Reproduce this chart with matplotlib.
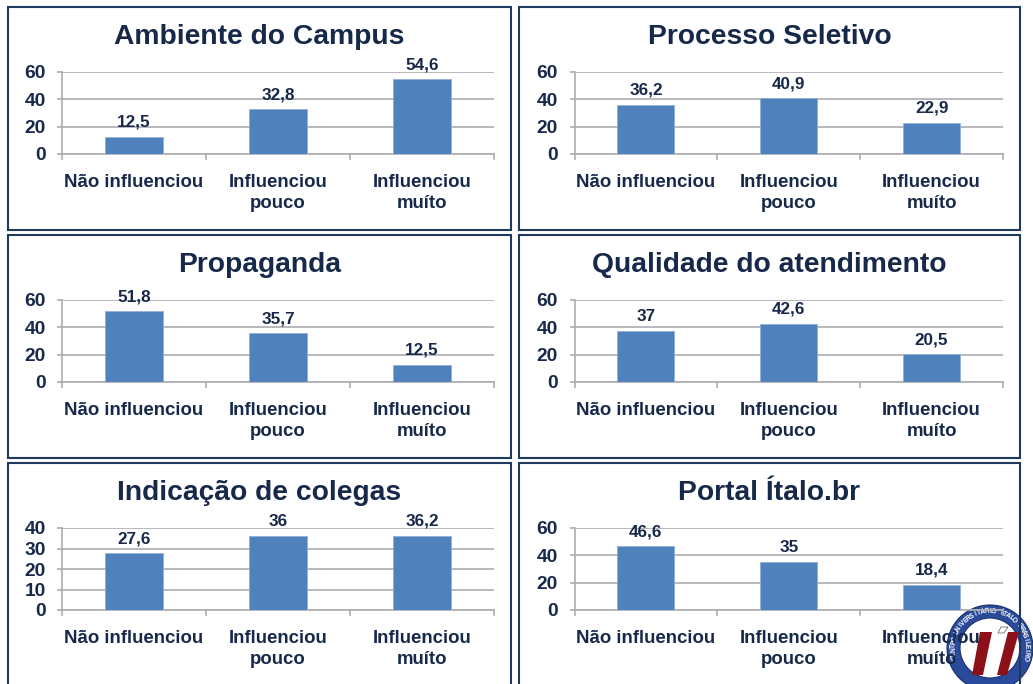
import matplotlib
matplotlib.use('Agg')
import numpy as np
from matplotlib import pyplot as plt
from matplotlib.patches import Rectangle, Circle, Polygon

plt.rcParams['font.family'] = ['Liberation Sans', 'DejaVu Sans']
plt.rcParams['font.weight'] = 'bold'

W, H = 1033, 684
NAVY = '#17294a'
BLUE = '#4f81bd'
GRID = '#adadb2'

categorias = ['Não influenciou', 'Influenciou\npouco', 'Influenciou\nmuíto']
titulos = ['Ambiente do Campus', 'Processo Seletivo', 'Propaganda',
           'Qualidade do atendimento', 'Indicação de colegas', 'Portal Ítalo.br']
ambiente = [12.5, 32.8, 54.6]
processo = [36.2, 40.9, 22.9]
propaganda = [51.8, 35.7, 12.5]
qualidade = [37, 42.6, 20.5]
indicacao = [27.6, 36, 36.2]
portal = [46.6, 35, 18.4]
rotulos = [['12,5', '32,8', '54,6'], ['36,2', '40,9', '22,9'], ['51,8', '35,7', '12,5'],
           ['37', '42,6', '20,5'], ['27,6', '36', '36,2'], ['46,6', '35', '18,4']]
series = [ambiente, processo, propaganda, qualidade, indicacao, portal]
yticks = [[0, 20, 40, 60]] * 4 + [[0, 10, 20, 30, 40], [0, 20, 40, 60]]

# caixas em pixels: x0, x1, y0, y1
caixas_x = [(8, 511), (519, 1020)]
caixas_y = [(7, 230), (235, 458), (463, 700)]
eixos_x = [(62, 494), (574.5, 1003)]
eixos_y = [(72, 154), (300, 382), (528, 610)]


def fx(x):
    return x / W


def fy(y):
    return 1 - y / H


fig = plt.figure(figsize=(W / 100, H / 100), dpi=100, facecolor='white')

for i in range(6):
    lin, col = i // 2, i % 2
    x0, x1 = caixas_x[col]
    y0, y1 = caixas_y[lin]
    fig.add_artist(Rectangle((fx(x0), fy(y1)), (x1 - x0) / W, (y1 - y0) / H,
                             transform=fig.transFigure, fill=False,
                             edgecolor='#1f3a5f', linewidth=1.5, zorder=20))

    ax0, ax1 = eixos_x[col]
    ay0, ay1 = eixos_y[lin]
    ax = fig.add_axes([fx(ax0), fy(ay1), (ax1 - ax0) / W, (ay1 - ay0) / H])
    ax.patch.set_alpha(0)
    pos = np.arange(3)
    ax.bar(pos, series[i], width=0.4, color=BLUE, edgecolor='#8fb0d8', linewidth=0.6, zorder=3)
    ax.set_xlim(-0.5, 2.5)
    ax.set_ylim(0, yticks[i][-1])
    ax.set_yticks(yticks[i])
    ax.set_xticks(pos)
    ax.set_xticklabels(categorias, fontsize=13.4, color=NAVY, linespacing=1.33, va='top')
    ax.tick_params(axis='x', length=0, pad=14.5)
    ax.tick_params(axis='y', length=3.6, width=1.2, color=GRID, labelsize=13.8,
                   labelcolor=NAVY, pad=8.2)
    ax.grid(axis='y', color=GRID, linewidth=1.2, zorder=1)
    ax.set_axisbelow(True)
    for lado in ['top', 'right']:
        ax.spines[lado].set_visible(False)
    for lado in ['left', 'bottom']:
        ax.spines[lado].set_color(GRID)
        ax.spines[lado].set_linewidth(1.2)
    # marcas entre as categorias
    for xt in [-0.5, 0.5, 1.5, 2.5]:
        ax.plot([xt, xt], [0, -0.065], transform=ax.get_xaxis_transform(),
                color=GRID, linewidth=1.2, clip_on=False)
    for p, v, r in zip(pos, series[i], rotulos[i]):
        ax.annotate(r, (p, v), xytext=(0, 5), textcoords='offset points', ha='center',
                    va='bottom', fontsize=12.3, color=NAVY, zorder=5)
    fig.text(fx((x0 + x1) / 2), fy(y0 + 29.5), titulos[i], ha='center', va='center',
             fontsize=20.3, color=NAVY)

# selo no canto, por baixo dos textos
selo = fig.add_axes([0, 0, 1, 1], zorder=-1)
selo.set_xlim(0, W)
selo.set_ylim(H, 0)
selo.axis('off')
selo.patch.set_alpha(0)
cx, cy = 990, 648
selo.add_patch(Circle((cx, cy), 43, facecolor='#2a4a9c', edgecolor='#1b2f70', linewidth=0.8))
selo.add_patch(Circle((cx, cy), 30, facecolor='white', edgecolor='#1b2f70', linewidth=0.8))
selo.add_patch(Polygon([(980, 632), (992, 632), (983, 675), (972, 675)], facecolor='#8c1018'))
selo.add_patch(Polygon([(1008, 632), (1019, 632), (1007, 675), (997, 675)], facecolor='#8c1018'))
selo.add_patch(Polygon([(1001, 627), (1008, 627), (1004, 633), (998, 633)], facecolor='white',
                       edgecolor='#555555', linewidth=0.5))
texto_selo = 'CENTRO UNIVERSITÁRIO ÍTALO BRASILEIRO'
angulos = np.linspace(195, -15, len(texto_selo))
for letra, ang in zip(texto_selo, angulos):
    a = np.deg2rad(ang)
    selo.text(cx + 36.5 * np.cos(a), cy - 36.5 * np.sin(a), letra, fontsize=4.8, color='white',
              ha='center', va='center', rotation=ang - 90)

fig.savefig('out.png', dpi=100)
